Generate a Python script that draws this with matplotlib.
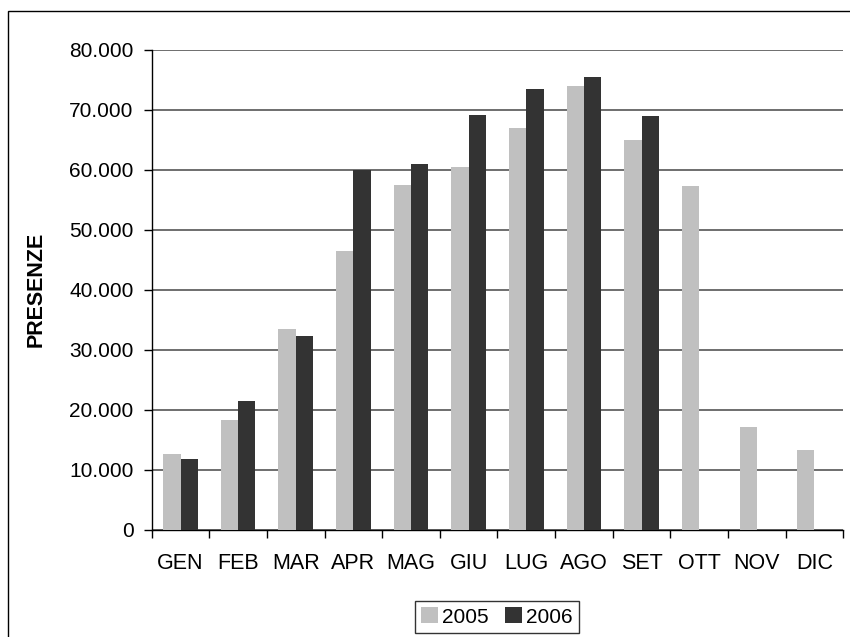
import matplotlib
matplotlib.use("Agg")
import matplotlib.pyplot as plt
import numpy as np
from matplotlib.patches import Rectangle
from matplotlib.ticker import FuncFormatter, FixedLocator

# Monthly presences
months = ['GEN', 'FEB', 'MAR', 'APR', 'MAG', 'GIU', 'LUG', 'AGO', 'SET', 'OTT', 'NOV', 'DIC']
presenze_2005 = [12600, 18200, 33400, 46400, 57400, 60500, 67000, 74000, 64900, 57250, 17100, 13300]
presenze_2006 = [11800, 21500, 32250, 60000, 61000, 69100, 73400, 75400, 69000, np.nan, np.nan, np.nan]
series_labels = ['2005', '2006']

plt.rcParams['font.family'] = ['Liberation Sans', 'DejaVu Sans']

fig = plt.figure(figsize=(8.5, 6.37), dpi=100)
ax = fig.add_axes([151.7 / 850, 1 - 529.5 / 637, (843.3 - 151.7) / 850, (529.5 - 49.7) / 637])

x = np.arange(len(months))
w = 0.3
ax.bar(x - w / 2, presenze_2005, width=w, color='#C0C0C0', label=series_labels[0], zorder=3)
ax.bar(x + w / 2, presenze_2006, width=w, color='#333333', label=series_labels[1], zorder=3)

# axes limits and grid
ax.set_xlim(-0.5, len(months) - 0.5)
ax.set_ylim(0, 80000)
ax.set_yticks(np.arange(0, 80001, 10000))
ax.yaxis.set_major_formatter(FuncFormatter(lambda v, p: f"{int(v):,}".replace(",", ".")))
ax.yaxis.grid(True, color='#555555', linewidth=1.2, zorder=0)
ax.set_axisbelow(True)

# month labels in the middle, tick marks on the boundaries
ax.set_xticks(x)
ax.set_xticklabels(months)
ax.xaxis.set_minor_locator(FixedLocator(np.arange(-0.5, len(months), 1.0)))
ax.tick_params(axis='x', which='major', length=0, pad=17, labelsize=15.5)
ax.tick_params(axis='x', which='minor', length=6, width=1, color='black')
ax.tick_params(axis='y', length=6, width=1, pad=7, labelsize=15)

for s in ['top', 'right']:
    ax.spines[s].set_visible(False)
for s in ['left', 'bottom']:
    ax.spines[s].set_color('black')
    ax.spines[s].set_linewidth(1)

ax.set_ylabel('PRESENZE', fontsize=15.5, fontweight='bold', labelpad=10)
ax.yaxis.set_label_coords(-0.152, 0.5)

leg = fig.legend(loc='center', bbox_to_anchor=(497 / 850, 1 - 617 / 637), ncol=2,
                 fontsize=15, frameon=True, fancybox=False, edgecolor='black',
                 handlelength=0.8, handleheight=0.8, handletextpad=0.2,
                 columnspacing=0.8, borderpad=0.3, borderaxespad=0)
leg.get_frame().set_linewidth(1)

# outer chart border
fig.patches.append(Rectangle((7.7 / 850, -0.1), 2, 1 - 11 / 637 + 0.1,
                             transform=fig.transFigure, fill=False,
                             edgecolor='black', linewidth=1))

fig.savefig('out.png', dpi=100)
